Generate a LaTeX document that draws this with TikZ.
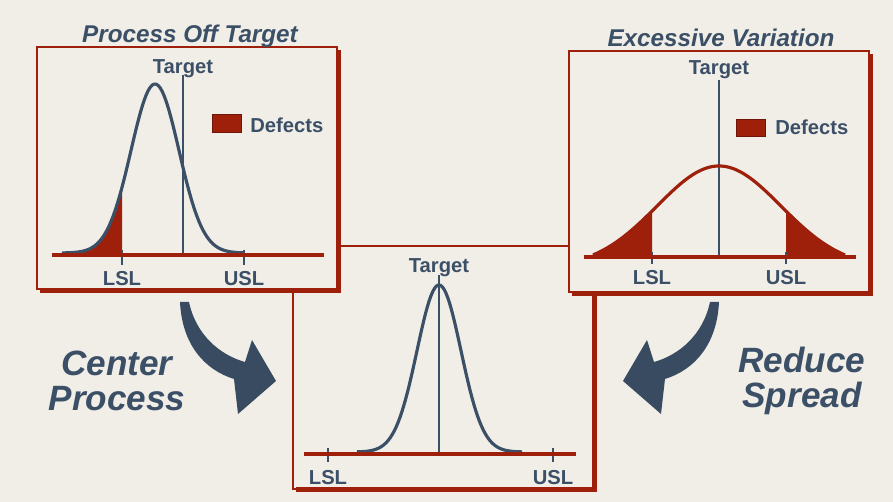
\documentclass[tikz,border=0pt]{standalone}
\usepackage{fontspec}
\setmainfont{Liberation Sans}
\usepackage{tikz}
\definecolor{paper}{HTML}{F1EEE8}
\definecolor{rust}{HTML}{9E200B}
\definecolor{slate}{HTML}{3B4F66}

\begin{document}
\begin{tikzpicture}[x=0.02cm,y=-0.02cm,panel/.style={draw=rust,line width=0.7pt,fill=paper},shade/.style={draw=rust,line width=2.3pt},axis/.style={draw=rust,line width=2.4pt},bell/.style={draw=slate,line width=1.8pt,line join=round},redbell/.style={draw=rust,line width=1.8pt,line join=round},tgt/.style={draw=slate,line width=0.6pt},tick/.style={draw=slate,line width=0.6pt},defect/.style={fill=rust},legend/.style={fill=rust,draw=rust!70!black,line width=0.4pt},lbl/.style={font=\fontsize{11.5}{13}\selectfont\bfseries,text=slate,inner sep=0pt},title/.style={font=\fontsize{13.8}{16}\selectfont\bfseries\itshape,text=slate,inner sep=0pt},big/.style={font=\fontsize{20}{20}\selectfont\bfseries\itshape,text=slate,align=center,inner sep=0pt},bigarrow/.style={fill=slate!95!black}]
\fill[paper] (0,0) rectangle (893,502);
\useasboundingbox (0,0) rectangle (893,502);
% centered process
\draw[panel] (293,246) rectangle (593,489);
\draw[shade] (594.5,249) -- (594.5,489.5) -- (296,489.5);
\draw[tgt] (439,275) -- (439,454);
\draw[bell] plot[domain=357:522,samples=90] (\x,{452-167*exp(-0.5*((\x-439)/22)^2)});
\draw[tick] (328,448) -- (328,462);
\draw[tick] (553,448) -- (553,462);
\draw[axis] (304,454) -- (576,454);
\node[lbl,anchor=base] (tgtC) at (439,273) {Target};
\node[lbl,anchor=base] (lslC) at (328,485) {LSL};
\node[lbl,anchor=base] (uslC) at (553,485) {USL};
% off target
\draw[panel] (37,47) rectangle (337,289);
\draw[shade] (338.5,50) -- (338.5,290.5) -- (40,290.5);
\draw[tgt] (183,75) -- (183,255);
\fill[defect] (62,253) -- plot[domain=62:122,samples=40] (\x,{253-169*exp(-0.5*((\x-155)/24)^2)}) -- (122,253) -- cycle;
\draw[bell] plot[domain=62:244,samples=90] (\x,{253-169*exp(-0.5*((\x-155)/24)^2)});
\draw[tick] (122,250) -- (122,265);
\draw[tick] (244,250) -- (244,265);
\draw[axis] (52,255) -- (324,255);
\draw[legend] (212,114) rectangle (241,132);
\node[lbl,anchor=base west] (defL) at (250,133) {Defects};
\node[lbl,anchor=base] (tgtL) at (183,74) {Target};
\node[lbl,anchor=base] (lslL) at (122,286) {LSL};
\node[lbl,anchor=base] (uslL) at (244,286) {USL};
\node[title,anchor=base] (offT) at (190,43) {Process Off Target};
% excessive variation
\draw[panel] (569,51) rectangle (869,292);
\draw[shade] (870.5,54) -- (870.5,293.5) -- (572,293.5);
\fill[defect] (593,255) -- plot[domain=593:652,samples=40] (\x,{255-89*(exp(-0.5*((\x-719)/62)^2)-0.1268)/0.8732}) -- (652,255) -- cycle;
\fill[defect] (786,255) -- plot[domain=786:845,samples=40] (\x,{255-89*(exp(-0.5*((\x-719)/62)^2)-0.1268)/0.8732}) -- (845,255) -- cycle;
\draw[tgt] (719,80) -- (719,257);
\draw[redbell] plot[domain=593:845,samples=90] (\x,{255-89*(exp(-0.5*((\x-719)/62)^2)-0.1268)/0.8732});
\draw[tick] (652,252) -- (652,264);
\draw[tick] (786,252) -- (786,264);
\draw[axis] (584,257) -- (856,257);
\draw[legend] (736,119) rectangle (765,136);
\node[lbl,anchor=base west] (defR) at (775,135) {Defects};
\node[lbl,anchor=base] (tgtR) at (719,75) {Target};
\node[lbl,anchor=base] (lslR) at (652,285) {LSL};
\node[lbl,anchor=base] (uslR) at (786,285) {USL};
\node[title,anchor=base] (varT) at (721,46.5) {Excessive Variation};
% bent arrows
\fill[bigarrow] (180,302) -- (189,302) .. controls (196,335) and (220,355) .. (245,362) -- (252,340) -- (276,381) -- (238,414) -- (234,379) .. controls (205,370) and (182,345) .. cycle;
\fill[bigarrow] (719,302) -- (710,302) .. controls (703,335) and (679,355) .. (654,362) -- (647,340) -- (623,381) -- (661,414) -- (665,379) .. controls (694,370) and (717,345) .. cycle;
\node[big] (centerTxt) at (117,381) {Center\\Process};
\node[big] (reduceTxt) at (802,381) {Reduce\\Spread};
\end{tikzpicture}
\end{document}
